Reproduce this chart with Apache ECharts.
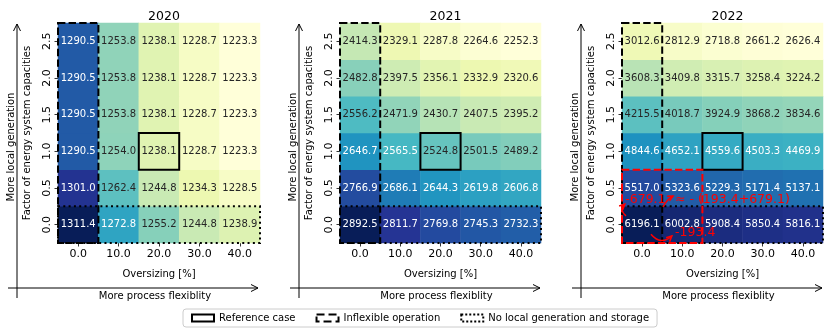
<!DOCTYPE html>
<html>
<head>
<meta charset="utf-8">
<script src="https://cdn.jsdelivr.net/npm/echarts@6/dist/echarts.min.js"></script>
<style>
  html, body { margin: 0; padding: 0; background: #fff; }
  #chart { width: 831px; height: 335px; }
</style>
</head>
<body>
<div id="chart"></div>
<script>
const years = ['2020', '2021', '2022'];
const oversizing = ['0.0', '10.0', '20.0', '30.0', '40.0'];
const capacityFactor = ['0.0', '0.5', '1.0', '1.5', '2.0', '2.5'];

// one row per capacity factor (0.0 -> 2.5), one column per oversizing step
const costs2020 = [
  [1311.4, 1272.8, 1255.2, 1244.8, 1238.9],
  [1301.0, 1262.4, 1244.8, 1234.3, 1228.5],
  [1290.5, 1254.0, 1238.1, 1228.7, 1223.3],
  [1290.5, 1253.8, 1238.1, 1228.7, 1223.3],
  [1290.5, 1253.8, 1238.1, 1228.7, 1223.3],
  [1290.5, 1253.8, 1238.1, 1228.7, 1223.3]
];
const costs2021 = [
  [2892.5, 2811.7, 2769.8, 2745.3, 2732.3],
  [2766.9, 2686.1, 2644.3, 2619.8, 2606.8],
  [2646.7, 2565.5, 2524.8, 2501.5, 2489.2],
  [2556.2, 2471.9, 2430.7, 2407.5, 2395.2],
  [2482.8, 2397.5, 2356.1, 2332.9, 2320.6],
  [2414.3, 2329.1, 2287.8, 2264.6, 2252.3]
];
const costs2022 = [
  [6196.1, 6002.8, 5908.4, 5850.4, 5816.1],
  [5517.0, 5323.6, 5229.3, 5171.4, 5137.1],
  [4844.6, 4652.1, 4559.6, 4503.3, 4469.9],
  [4215.5, 4018.7, 3924.9, 3868.2, 3834.6],
  [3608.3, 3409.8, 3315.7, 3258.4, 3224.2],
  [3012.6, 2812.9, 2718.8, 2661.2, 2626.4]
];
const costs = [costs2020, costs2021, costs2022];

// highlighted cell ranges [col0, row0, col1, row1]
const referenceCase = [2, 2, 2, 2];
const inflexibleOperation = [0, 0, 0, 5];
const noLocalGeneration = [0, 0, 4, 0];
const compareBox2022 = [0, 0, 1, 1];
const notes2022 = ['-679.1', '≈ - (193.4+679.1)', '-193.4'];

const FONT = 'DejaVu Sans';
const YlGnBu = ['#ffffd9', '#edf8b1', '#c7e9b4', '#7fcdbb', '#41b6c4', '#1d91c0', '#225ea8', '#253494', '#081d58'];
const grids = [
  {left: 58, top: 23, width: 202, height: 220},
  {left: 340, top: 23, width: 201, height: 220},
  {left: 622, top: 23, width: 201, height: 220}
];

function heatData(table) {
  const flat = [].concat(...table);
  const lo = Math.min(...flat), hi = Math.max(...flat);
  const out = [];
  table.forEach((row, r) => {
    row.forEach((v, c) => {
      const t = (v - lo) / (hi - lo);
      out.push({value: [c, r, v], label: {color: t > 0.482 ? '#ffffff' : '#262626'}});
    });
  });
  return out;
}

// custom series: frame around a cell range, in cell units
function frameSeries(name, idx, range, style) {
  return {
    name,
    type: 'custom',
    xAxisIndex: idx,
    yAxisIndex: idx,
    z: 5,
    silent: true,
    dimensions: ['ax', 'ay', 'c0', 'r0', 'c1', 'r1'],
    encode: {x: 0, y: 1},
    data: [[0, 0].concat(range)],
    renderItem(params, api) {
      const o = api.coord([0, 0]);
      const s = api.size([1, 1]);
      const x0 = o[0] + (api.value(2) - 0.5) * s[0];
      const x1 = o[0] + (api.value(4) + 0.5) * s[0];
      const y0 = o[1] - (api.value(5) + 0.5) * s[1];
      const y1 = o[1] - (api.value(3) - 0.5) * s[1];
      return {
        type: 'rect',
        shape: {x: x0, y: y0, width: x1 - x0, height: y1 - y0},
        style: Object.assign({fill: 'none', lineWidth: 2}, style)
      };
    }
  };
}

function arrowHead(p, q) {
  const a = Math.atan2(q[1] - p[1], q[0] - p[0]);
  const L = 6, w = 0.45;
  return [
    [q[0] - L * Math.cos(a - w), q[1] - L * Math.sin(a - w)],
    q,
    [q[0] - L * Math.cos(a + w), q[1] - L * Math.sin(a + w)]
  ];
}

const series = [];
costs.forEach((table, i) => {
  series.push({
    type: 'heatmap',
    xAxisIndex: i,
    yAxisIndex: i,
    data: heatData(table),
    label: {
      show: true,
      fontFamily: FONT,
      fontSize: 10,
      formatter: p => p.value[2].toFixed(1)
    },
    emphasis: {disabled: true},
    itemStyle: {borderWidth: 0}
  });
});
const visualMaps = costs.map((table, i) => {
  const flat = [].concat(...table);
  return {
    type: 'continuous',
    show: false,
    seriesIndex: i,
    min: Math.min(...flat),
    max: Math.max(...flat),
    inRange: {color: YlGnBu}
  };
});

years.forEach((y, i) => {
  series.push(frameSeries('No local generation and storage', i, noLocalGeneration, {stroke: '#000', lineDash: [2, 3.3]}));
  series.push(frameSeries('Inflexible operation', i, inflexibleOperation, {stroke: '#000', lineDash: [7.4, 3.2]}));
  series.push(frameSeries('Reference case', i, referenceCase, {stroke: '#000'}));
});
series.push(frameSeries('', 2, compareBox2022, {stroke: '#ff0000', lineDash: [7.4, 3.2]}));

// red annotations in 2022 panel
series.push({
  type: 'custom',
  xAxisIndex: 2,
  yAxisIndex: 2,
  z: 6,
  silent: true,
  data: [[0, 0]],
  renderItem(params, api) {
    const o = api.coord([0, 0]);
    const s = api.size([1, 1]);
    const P = (u, v) => [o[0] + u * s[0], o[1] - v * s[1]];
    const red = '#ff0000';
    const txt = (t, u, v) => ({
      type: 'text',
      x: P(u, v)[0],
      y: P(u, v)[1],
      style: {text: t, fill: red, fontFamily: FONT, fontSize: 12.5, verticalAlign: 'middle', align: 'left'}
    });
    const curve = (a, c, b) => {
      const pa = P(a[0], a[1]), pc = P(c[0], c[1]), pb = P(b[0], b[1]);
      return [
        {type: 'bezierCurve', shape: {x1: pa[0], y1: pa[1], cpx1: pc[0], cpy1: pc[1], x2: pb[0], y2: pb[1]}, style: {stroke: red, fill: 'none', lineWidth: 1.5}},
        {type: 'polyline', shape: {points: arrowHead(pc, pb)}, style: {stroke: red, fill: 'none', lineWidth: 1.5}}
      ];
    };
    return {
      type: 'group',
      children: [
        txt(notes2022[0], -0.42, 0.67),
        txt(notes2022[1], 0.82, 0.67),
        txt(notes2022[2], 0.82, -0.23)
      ].concat(
        curve([-0.40, 0.24], [-0.58, 0.40], [-0.43, 0.56]),
        curve([0.52, 0.48], [0.60, 0.68], [0.77, 0.78]),
        curve([0.22, -0.26], [0.47, -0.58], [0.74, -0.31])
      )
    };
  }
});

// outer "more ..." arrows next to each panel
const graphic = [];
grids.forEach(g => {
  const vx = g.left - 41;
  const hx = g.left - 50;
  const hy = 288;
  const line = {stroke: '#000', lineWidth: 1, fill: 'none'};
  graphic.push(
    {type: 'line', shape: {x1: vx, y1: 298, x2: vx, y2: 24}, style: line},
    {type: 'polyline', shape: {points: [[vx - 3.5, 31], [vx, 24], [vx + 3.5, 31]]}, style: line},
    {type: 'line', shape: {x1: hx, y1: hy, x2: hx + 250, y2: hy}, style: line},
    {type: 'polyline', shape: {points: [[hx + 243, hy - 3.5], [hx + 250, hy], [hx + 243, hy + 3.5]]}, style: line},
    {type: 'text', x: g.left - 47, y: 147, rotation: Math.PI / 2,
      style: {text: 'More local generation', fill: '#000', fontFamily: FONT, fontSize: 10, align: 'center', verticalAlign: 'middle'}},
    {type: 'text', x: g.left + g.width / 2 - 4, y: 296,
      style: {text: 'More process flexiblity', fill: '#000', fontFamily: FONT, fontSize: 10, align: 'center', verticalAlign: 'middle'}}
  );
});

const chart = echarts.init(document.getElementById('chart'), null, {renderer: 'canvas'});
chart.setOption({
  animation: false,
  backgroundColor: '#ffffff',
  textStyle: {fontFamily: FONT},
  title: years.map((y, i) => ({
    text: y,
    left: grids[i].left + grids[i].width / 2,
    top: 5,
    textAlign: 'center',
    textStyle: {fontFamily: FONT, fontSize: 12.5, fontWeight: 'normal', color: '#000'}
  })),
  grid: grids,
  xAxis: grids.map((g, i) => ({
    type: 'category',
    gridIndex: i,
    data: oversizing,
    name: 'Oversizing [%]',
    nameLocation: 'middle',
    nameGap: 26,
    nameTextStyle: {fontFamily: FONT, fontSize: 10, color: '#000'},
    axisLine: {show: false},
    axisTick: {show: true, alignWithLabel: true, length: 3.5, lineStyle: {color: '#000', width: 0.8}},
    axisLabel: {fontFamily: FONT, fontSize: 11, color: '#000', margin: 6},
    splitLine: {show: false}
  })),
  yAxis: grids.map((g, i) => ({
    type: 'category',
    gridIndex: i,
    data: capacityFactor,
    name: 'Factor of energy system capacities',
    nameLocation: 'middle',
    nameRotate: 90,
    nameGap: 26,
    nameTextStyle: {fontFamily: FONT, fontSize: 10, color: '#000'},
    axisLine: {show: false},
    axisTick: {show: true, alignWithLabel: true, length: 3.5, lineStyle: {color: '#000', width: 0.8}},
    axisLabel: {fontFamily: FONT, fontSize: 11, color: '#000', rotate: 90, margin: 5},
    splitLine: {show: false}
  })),
  visualMap: visualMaps,
  legend: {
    left: 183,
    top: 309,
    selectedMode: false,
    itemWidth: 22,
    itemHeight: 7,
    itemGap: 20,
    padding: [4, 8],
    borderColor: '#cccccc',
    borderWidth: 1,
    borderRadius: 3,
    textStyle: {fontFamily: FONT, fontSize: 10, color: '#000'},
    data: [
      {name: 'Reference case', icon: 'rect', itemStyle: {color: '#fff', borderColor: '#000', borderWidth: 2, borderType: 'solid'}},
      {name: 'Inflexible operation', icon: 'rect', itemStyle: {color: '#fff', borderColor: '#000', borderWidth: 2, borderType: 'dashed'}},
      {name: 'No local generation and storage', icon: 'rect', itemStyle: {color: '#fff', borderColor: '#000', borderWidth: 2, borderType: 'dotted'}}
    ]
  },
  graphic,
  series
});
</script>
</body>
</html>
